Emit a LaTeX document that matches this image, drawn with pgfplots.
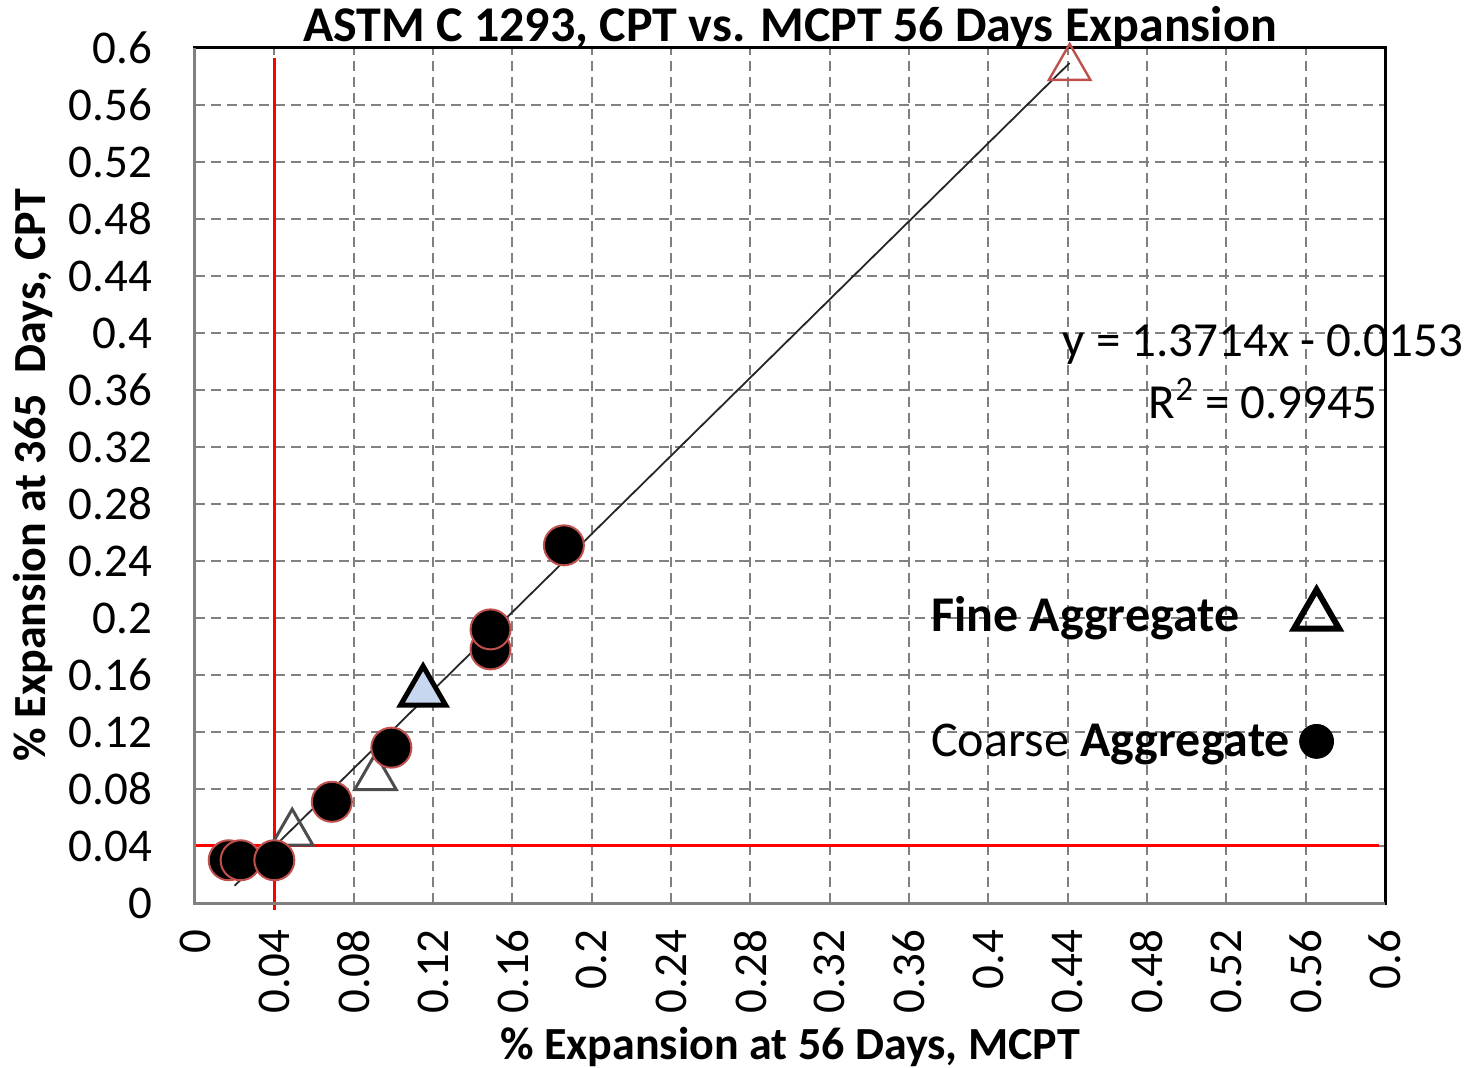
\documentclass[border=0pt]{standalone}
\usepackage{pgfplots}
\pgfplotsset{compat=1.18}
\usepackage{fontspec}
\setmainfont{Carlito}
\definecolor{gridgray}{RGB}{128,128,128}
\definecolor{lightblue}{RGB}{200,215,240}
\definecolor{ptred}{RGB}{192,80,77}
\begin{document}
\begin{tikzpicture}
\begin{axis}[
  name=ax,
  scale only axis, width=595pt, height=427.5pt,
  xmin=0, xmax=0.6, ymin=0, ymax=0.6,
  clip=false,
  xtick={0,0.04,0.08,0.12,0.16,0.2,0.24,0.28,0.32,0.36,0.4,0.44,0.48,0.52,0.56,0.6},
  ytick={0,0.04,0.08,0.12,0.16,0.2,0.24,0.28,0.32,0.36,0.4,0.44,0.48,0.52,0.56,0.6},
  xticklabels={0,0.04,0.08,0.12,0.16,0.2,0.24,0.28,0.32,0.36,0.4,0.44,0.48,0.52,0.56,0.6},
  yticklabels={0,0.04,0.08,0.12,0.16,0.2,0.24,0.28,0.32,0.36,0.4,0.44,0.48,0.52,0.56,0.6},
  major tick length=0pt,
  grid=major,
  grid style={gridgray, line width=1pt, dash pattern=on 5pt off 3pt},
  axis line style={black, line width=1.5pt},
  tick label style={font=\fontsize{23.5}{27}\selectfont},
  xticklabel style={rotate=90, anchor=east},
  xticklabel shift=10pt,
  yticklabel style={anchor=east},
  yticklabel shift=18pt,
  title={ASTM C 1293, CPT vs. MCPT 56 Days Expansion},
  every axis title/.style={font=\fontsize{25}{28}\selectfont\bfseries, at={(axis description cs:0.5,1)}, anchor=base, yshift=3pt},
  xlabel={\% Expansion at 56 Days, MCPT},
  xlabel style={font=\fontsize{23}{26}\selectfont\bfseries, at={(axis description cs:0.5,-0.168)}, anchor=center},
  ylabel={\% Expansion at 365\ \ Days, CPT},
  ylabel style={font=\fontsize{23}{26}\selectfont\bfseries, at={(axis description cs:-0.136,0.5)}, anchor=center},
  legend plot pos=right,
  legend style={at={(axis cs:0.366,0.223)}, anchor=north west, draw=none, fill=none,
    font=\fontsize{25}{29}\selectfont, row sep=40.5pt,
    /tikz/every even column/.append style={column sep=4pt}},
  legend cell align=left,
]
% Fine aggregate (triangles)
\addplot[only marks, mark=triangle, mark size=12pt, draw=black!70, line width=1.5pt, forget plot]
  coordinates {(0.049,0.049) (0.091,0.088)};
\addplot[only marks, mark=triangle*, mark size=13pt, draw=black, fill=lightblue, line width=2.5pt, forget plot]
  coordinates {(0.115,0.148)};
\addplot[only marks, mark=triangle, mark size=12pt, draw=ptred, line width=1.2pt, forget plot]
  coordinates {(0.441,0.586)};
% trendline
\addplot[black!85, line width=0.9pt, forget plot]
  coordinates {(0.020,0.0121) (0.441,0.5895)};
% Coarse aggregate (circles)
\addplot[only marks, mark=*, mark size=10pt, draw=ptred, fill=black, line width=1pt, forget plot]
  coordinates {(0.017,0.030) (0.023,0.030) (0.040,0.030) (0.069,0.071) (0.099,0.109) (0.149,0.178) (0.149,0.192) (0.186,0.251)};
% red limit lines
\addplot[red, line width=1.5pt, forget plot] coordinates {(0.04,0.593) (0.04,-0.005)};
\addplot[red, line width=1.5pt, forget plot] coordinates {(0,0.04) (0.597,0.04)};
% equation
\node[align=center, font=\fontsize{24.5}{31}\selectfont] at (axis cs:0.5385,0.373)
  {y = 1.3714x - 0.0153\\R\textsuperscript{2} = 0.9945};
% gray left and bottom axis lines
\draw[gridgray, line width=1.5pt] (rel axis cs:0,1) -- (rel axis cs:0,0) -- (rel axis cs:1,0);
% legend
\addlegendimage{only marks, mark=triangle, mark size=13pt, draw=black, fill=white, line width=3pt}
\addlegendentry{\textbf{Fine Aggregate}}
\addlegendimage{only marks, mark=*, mark size=8.5pt, draw=black, fill=black}
\addlegendentry{Coarse \textbf{Aggregate}}
\end{axis}
\pgfresetboundingbox
\path ([xshift=-97.5pt,yshift=-82.5pt]ax.south west) rectangle ([xshift=42pt,yshift=24pt]ax.north east);
\end{tikzpicture}
\end{document}
